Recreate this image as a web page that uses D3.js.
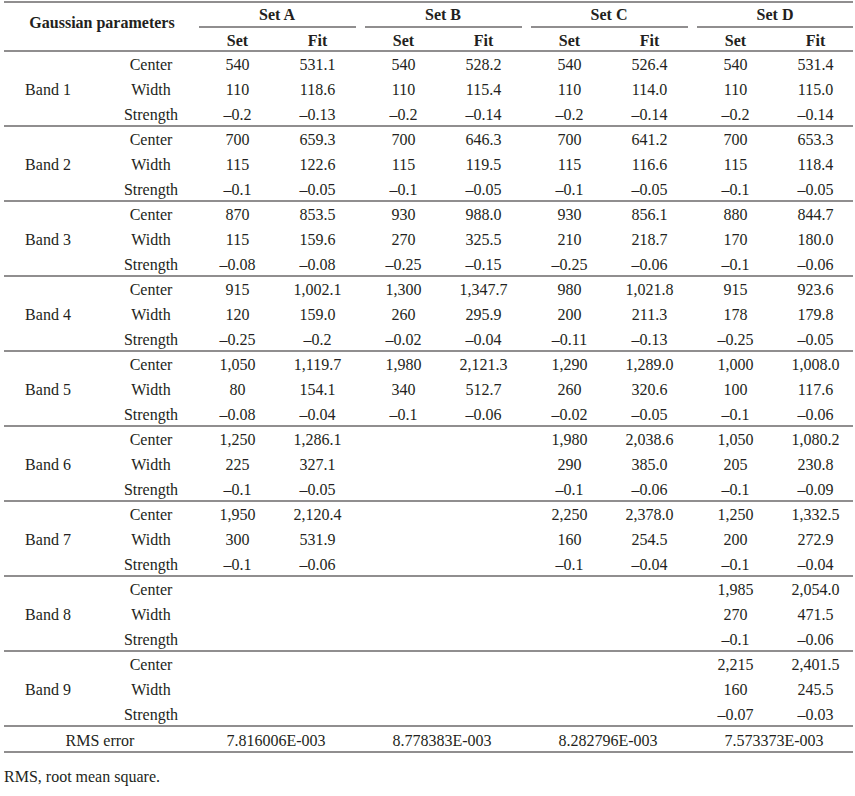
<!DOCTYPE html>
<html>
<head>
<meta charset="utf-8">
<script src="https://cdn.jsdelivr.net/npm/d3@7"></script>
<style>
  html, body { margin: 0; padding: 0; background: #fff; }
  svg text { font-family: "Liberation Serif", "Times New Roman", serif; font-size: 16px; fill: #231f20; }
</style>
</head>
<body>
<svg id="chart" width="855" height="796"></svg>
<script>
// ---- data ----
const bands = ["Band 1","Band 2","Band 3","Band 4","Band 5","Band 6","Band 7","Band 8","Band 9"];
const params = ["Center","Width","Strength"];
const sets = ["Set A","Set B","Set C","Set D"];
const subCols = ["Set","Fit"];

const setA_set = [["540","110","–0.2"],["700","115","–0.1"],["870","115","–0.08"],["915","120","–0.25"],["1,050","80","–0.08"],["1,250","225","–0.1"],["1,950","300","–0.1"]];
const setA_fit = [["531.1","118.6","–0.13"],["659.3","122.6","–0.05"],["853.5","159.6","–0.08"],["1,002.1","159.0","–0.2"],["1,119.7","154.1","–0.04"],["1,286.1","327.1","–0.05"],["2,120.4","531.9","–0.06"]];
const setB_set = [["540","110","–0.2"],["700","115","–0.1"],["930","270","–0.25"],["1,300","260","–0.02"],["1,980","340","–0.1"]];
const setB_fit = [["528.2","115.4","–0.14"],["646.3","119.5","–0.05"],["988.0","325.5","–0.15"],["1,347.7","295.9","–0.04"],["2,121.3","512.7","–0.06"]];
const setC_set = [["540","110","–0.2"],["700","115","–0.1"],["930","210","–0.25"],["980","200","–0.11"],["1,290","260","–0.02"],["1,980","290","–0.1"],["2,250","160","–0.1"]];
const setC_fit = [["526.4","114.0","–0.14"],["641.2","116.6","–0.05"],["856.1","218.7","–0.06"],["1,021.8","211.3","–0.13"],["1,289.0","320.6","–0.05"],["2,038.6","385.0","–0.06"],["2,378.0","254.5","–0.04"]];
const setD_set = [["540","110","–0.2"],["700","115","–0.1"],["880","170","–0.1"],["915","178","–0.25"],["1,000","100","–0.1"],["1,050","205","–0.1"],["1,250","200","–0.1"],["1,985","270","–0.1"],["2,215","160","–0.07"]];
const setD_fit = [["531.4","115.0","–0.14"],["653.3","118.4","–0.05"],["844.7","180.0","–0.06"],["923.6","179.8","–0.05"],["1,008.0","117.6","–0.06"],["1,080.2","230.8","–0.09"],["1,332.5","272.9","–0.04"],["2,054.0","471.5","–0.06"],["2,401.5","245.5","–0.03"]];
const rmsError = ["7.816006E-003","8.778383E-003","8.282796E-003","7.573373E-003"];
const footnote = "RMS, root mean square.";

const setValues = [[setA_set,setA_fit],[setB_set,setB_fit],[setC_set,setC_fit],[setD_set,setD_fit]];

// ---- layout ----
const svg = d3.select("#chart");
const left = 4, right = 853;
const topY = 2, subLineY = 27, headLineY = 51, bodyEnd = 726, rmsEnd = 752;

const groupX = d3.scaleBand().domain(sets).range([195, 859]).paddingInner(0).paddingOuter(0);
const subX = d3.scalePoint().domain(subCols).range([42.5, 122.5]);
const rowKeys = [];
bands.forEach((b,i)=>params.forEach((p,j)=>rowKeys.push(i*3+j)));
const rowY = d3.scaleBand().domain(rowKeys).range([headLineY, bodyEnd]);
const bandY = d3.scaleBand().domain(bands).range([headLineY, bodyEnd]);

const bandLabelX = 48, paramX = 151, gaussX = 102;
const dy = "0.42em";

// header
svg.append("text").attr("x", gaussX).attr("y", (topY+headLineY)/2 - 5).attr("dy", dy)
  .attr("text-anchor","middle").attr("font-weight","bold").text("Gaussian parameters");

sets.forEach((s)=>{
  const gx = groupX(s);
  svg.append("text").attr("x", gx + 82).attr("y", 13).attr("dy", dy)
    .attr("text-anchor","middle").attr("font-weight","bold").text(s);
  svg.append("line").attr("x1", gx + 4).attr("x2", Math.min(gx + 161, right)).attr("y1", subLineY).attr("y2", subLineY)
    .attr("stroke","#231f20").attr("stroke-width",1.2);
  subCols.forEach(c=>{
    svg.append("text").attr("x", gx + subX(c)).attr("y", 39).attr("dy", dy)
      .attr("text-anchor","middle").attr("font-weight","bold").text(c);
  });
});

// body
bands.forEach((b,i)=>{
  svg.append("text").attr("x", bandLabelX).attr("y", bandY(b) + bandY.bandwidth()/2).attr("dy", dy)
    .attr("text-anchor","middle").text(b);
  params.forEach((p,j)=>{
    const y = rowY(i*3+j) + rowY.bandwidth()/2;
    svg.append("text").attr("x", paramX).attr("y", y).attr("dy", dy).attr("text-anchor","middle").text(p);
    sets.forEach((s,k)=>{
      subCols.forEach((c,m)=>{
        const arr = setValues[k][m];
        if (i < arr.length) {
          svg.append("text").attr("x", groupX(s) + subX(c)).attr("y", y).attr("dy", dy)
            .attr("text-anchor","middle").text(arr[i][j]);
        }
      });
    });
  });
});

// RMS row
const rmsY = (bodyEnd + rmsEnd)/2;
svg.append("text").attr("x", gaussX - 2).attr("y", rmsY).attr("dy", dy).attr("text-anchor","middle").text("RMS error");
sets.forEach((s,k)=>{
  svg.append("text").attr("x", groupX(s) + 81).attr("y", rmsY).attr("dy", dy).attr("text-anchor","middle").text(rmsError[k]);
});

// horizontal rules
const rules = [topY, headLineY].concat(bands.map(b=>bandY(b) + bandY.bandwidth())).concat([rmsEnd]);
svg.selectAll("line.rule").data(rules).enter().append("line").attr("class","rule")
  .attr("x1", left).attr("x2", right).attr("y1", d=>d).attr("y2", d=>d)
  .attr("stroke","#231f20").attr("stroke-width",1.2);

// footnote
svg.append("text").attr("x", left).attr("y", 775).attr("dy", dy).text(footnote);
</script>
</body>
</html>
